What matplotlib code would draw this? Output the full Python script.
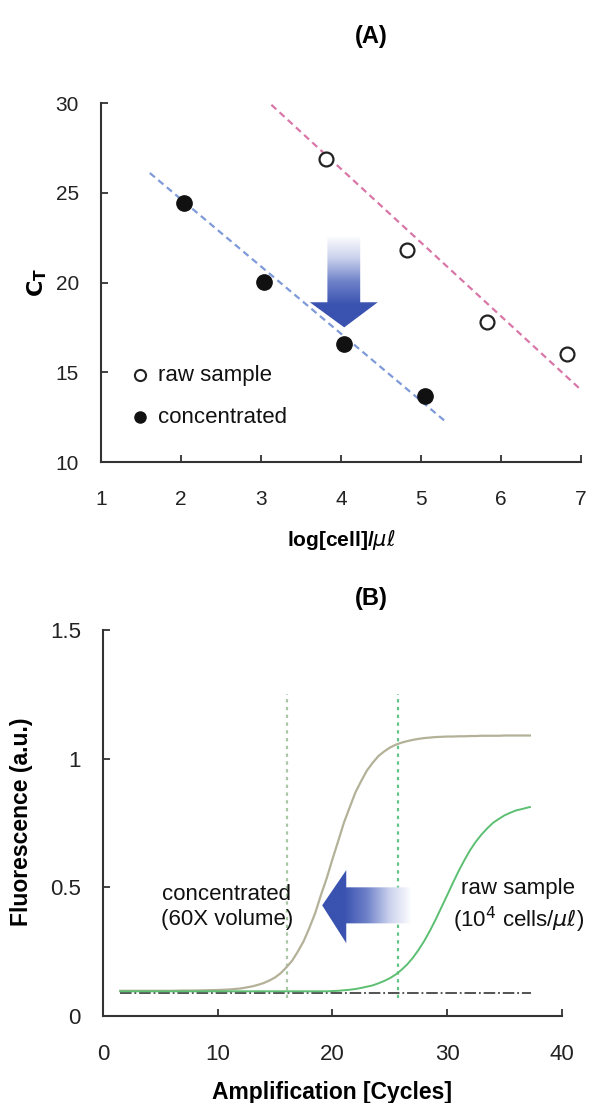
import numpy as np
import matplotlib
matplotlib.use("Agg")
import matplotlib.pyplot as plt
from matplotlib.patches import Polygon
from matplotlib.colors import LinearSegmentedColormap

plt.rcParams['font.family'] = ['Liberation Sans', 'DejaVu Sans']

# ---------------- Panel A data ----------------
raw_logcell = [3.81, 4.83, 5.83, 6.83]
raw_ct = [26.9, 21.8, 17.8, 16.0]
conc_logcell = [2.04, 3.04, 4.04, 5.05]
conc_ct = [24.45, 20.05, 16.6, 13.7]
raw_fit_x = [3.13, 6.99]
raw_fit_y = [29.9, 14.06]
conc_fit_x = [1.61, 5.30]
conc_fit_y = [26.1, 12.28]
a_xticks = [1, 2, 3, 4, 5, 6, 7]
a_yticks = [10, 15, 20, 25, 30]

# ---------------- Panel B data ----------------
cycles = [1.5, 2, 3, 4, 5, 6, 7, 8, 9, 10, 11, 12,
          12.5, 13, 13.5, 14, 14.5, 15, 15.5, 16, 16.5, 17,
          17.5, 18, 18.5, 19, 19.5, 20, 20.5, 21, 21.5, 22,
          22.5, 23, 23.5, 24, 24.5, 25, 25.5, 26, 26.5, 27,
          27.5, 28, 28.5, 29, 29.5, 30, 30.5, 31, 31.5, 32,
          32.5, 33, 33.5, 34, 34.5, 35, 35.5, 36, 36.5, 37, 37.2]
fluor_conc = [0.098, 0.098, 0.098, 0.098, 0.098, 0.098, 0.099, 0.099, 0.100, 0.101, 0.103, 0.107,
              0.111, 0.115, 0.121, 0.128, 0.138, 0.150, 0.167, 0.190, 0.216, 0.252,
              0.292, 0.344, 0.401, 0.471, 0.536, 0.610, 0.680, 0.752, 0.811, 0.869,
              0.913, 0.954, 0.984, 1.010, 1.028, 1.043, 1.054, 1.062, 1.068, 1.073,
              1.077, 1.080, 1.082, 1.084, 1.085, 1.086, 1.086, 1.087, 1.087, 1.088,
              1.088, 1.089, 1.089, 1.089, 1.089, 1.090, 1.090, 1.090, 1.090, 1.090, 1.090]
fluor_raw = [0.096, 0.096, 0.096, 0.096, 0.096, 0.096, 0.096, 0.096, 0.096, 0.096, 0.096, 0.096,
             0.096, 0.096, 0.096, 0.096, 0.096, 0.096, 0.096, 0.096, 0.096, 0.096,
             0.096, 0.096, 0.096, 0.096, 0.096, 0.097, 0.098, 0.100, 0.102, 0.105,
             0.109, 0.114, 0.119, 0.127, 0.136, 0.147, 0.161, 0.179, 0.200, 0.226,
             0.257, 0.292, 0.332, 0.376, 0.423, 0.470, 0.518, 0.564, 0.606, 0.645,
             0.678, 0.706, 0.730, 0.751, 0.766, 0.780, 0.790, 0.799, 0.804, 0.810, 0.812]
threshold_x = [1.5, 37.3]
threshold_y = [0.09, 0.09]
ct_conc = 16.0
ct_raw = 25.7
ct_line_y = [0.07, 1.25]
b_xticks = [0, 10, 20, 30, 40]
b_yticks = [0, 0.5, 1, 1.5]
b_yticklabels = ['0', '0.5', '1', '1.5']

fig = plt.figure(figsize=(6.11, 11.03), dpi=100)
W, H = 611, 1103

def axes_px(l, r, t, b):
    return fig.add_axes([l / W, 1 - b / H, (r - l) / W, (b - t) / H])

spine_col = '#333333'
blue = '#3a52b0'
cmap = LinearSegmentedColormap.from_list('bw', ['#ffffff', '#c9d0ec', '#6d80c8', blue, blue])


def style_axes(ax):
    for s in ['top', 'right']:
        ax.spines[s].set_visible(False)
    for s in ['left', 'bottom']:
        ax.spines[s].set_linewidth(1.5)
        ax.spines[s].set_color(spine_col)
    ax.tick_params(direction='in', length=5, width=1.3, color=spine_col,
                   labelsize=15, labelcolor='#222222')


# ================= Panel A =================
axA = axes_px(101, 581, 103, 462)
style_axes(axA)
axA.set_xlim(1, 7)
axA.set_ylim(10, 30)
axA.set_xticks(a_xticks)
axA.set_yticks(a_yticks)
axA.tick_params(axis='x', pad=20)
axA.tick_params(axis='y', pad=16)

axA.plot(raw_fit_x, raw_fit_y, ls=(0, (3, 2)), color='#d877a8', lw=1.6)
axA.plot(conc_fit_x, conc_fit_y, ls=(0, (3, 2)), color='#7f9ad8', lw=1.6)
axA.plot(raw_logcell, raw_ct, 'o', ms=10, mfc='white', mec='#222222', mew=1.6, ls='none')
axA.plot(conc_logcell, conc_ct, 'o', ms=11, mfc='#111111', mec='#111111', ls='none')

# gradient arrow (down): white at top, blue at tip
arrA = [(3.83, 22.56), (4.24, 22.56), (4.24, 18.9), (4.46, 18.9), (4.04, 17.5),
        (3.61, 18.9), (3.83, 18.9)]
polyA = Polygon(arrA, closed=True, facecolor='none', edgecolor='none', transform=axA.transData)
axA.add_patch(polyA)
gradA = np.linspace(0, 1, 256).reshape(-1, 1)
imA = axA.imshow(gradA, extent=[3.6, 4.47, 17.4, 22.6], origin='upper',
                 cmap=cmap, aspect='auto', zorder=3)
imA.set_clip_path(polyA)
axA.set_xlim(1, 7)
axA.set_ylim(10, 30)

# legend
axA.plot([0.081], [0.242], 'o', ms=8, mfc='white', mec='#222222', mew=1.5,
         transform=axA.transAxes, clip_on=False)
axA.plot([0.081], [0.125], 'o', ms=8, mfc='#111111', mec='#111111',
         transform=axA.transAxes, clip_on=False)
axA.text(0.119, 0.242, 'raw sample', transform=axA.transAxes, fontsize=16,
         va='center', ha='left', color='#111111')
axA.text(0.119, 0.125, 'concentrated', transform=axA.transAxes, fontsize=16,
         va='center', ha='left', color='#111111')

axA.set_xlabel('log[cell]/$\\mathit{\\mu\\ell}$', fontsize=15, fontweight='bold', labelpad=14)
fig.text(37 / W, 1 - 282 / H, r'$\mathbf{C_T}$', rotation=90, fontsize=16,
         ha='center', va='center')
fig.text(371 / W, 1 - 37 / H, '(A)', fontsize=17, fontweight='bold', ha='center', va='center')

# ================= Panel B =================
axB = axes_px(103, 562, 630, 1016)
style_axes(axB)
axB.set_xlim(0, 40)
axB.set_ylim(0, 1.5)
axB.set_xticks(b_xticks)
axB.set_yticks(b_yticks)
axB.set_yticklabels(b_yticklabels)
axB.tick_params(axis='x', pad=20, labelsize=16)
axB.tick_params(axis='y', pad=16, labelsize=16)

axB.plot(threshold_x, threshold_y, ls='-.', color='#444444', lw=1.3)
axB.plot([ct_conc, ct_conc], ct_line_y, ls=(0, (1.5, 2)), color='#a8c8a4', lw=1.6)
axB.plot([ct_raw, ct_raw], ct_line_y, ls=(0, (1.5, 2)), color='#62c487', lw=1.6)
axB.plot(cycles, fluor_conc, color='#b4b199', lw=1.6)
axB.plot(cycles, fluor_raw, color='#5cbf72', lw=1.4)

arrB = [(19.1, 0.43), (21.2, 0.567), (21.2, 0.50), (26.8, 0.50), (26.8, 0.36),
        (21.2, 0.36), (21.2, 0.283)]
polyB = Polygon(arrB, closed=True, facecolor='none', edgecolor='none', transform=axB.transData)
axB.add_patch(polyB)
gradB = np.linspace(1, 0, 256).reshape(1, -1)
imB = axB.imshow(gradB, extent=[19.0, 26.9, 0.27, 0.58], origin='upper',
                 cmap=cmap, aspect='auto', zorder=3)
imB.set_clip_path(polyB)
axB.set_xlim(0, 40)
axB.set_ylim(0, 1.5)

axB.text(10.8, 0.425, 'concentrated\n(60X volume)', fontsize=16, ha='center', va='center',
         linespacing=1.25, color='#111111')
axB.text(36.2, 0.425, 'raw sample\n(10$^4$ cells/$\\mathit{\\mu\\ell}$)', fontsize=16,
         ha='center', va='center', linespacing=1.25, color='#111111', clip_on=False)

axB.set_xlabel('Amplification [Cycles]', fontsize=16.5, fontweight='bold', labelpad=12)
fig.text(22 / W, 1 - 822 / H, 'Fluorescence (a.u.)', rotation=90, fontsize=16.5,
         fontweight='bold', ha='center', va='center')
fig.text(371 / W, 1 - 598 / H, '(B)', fontsize=17, fontweight='bold', ha='center', va='center')

fig.savefig('out.png', dpi=100)
